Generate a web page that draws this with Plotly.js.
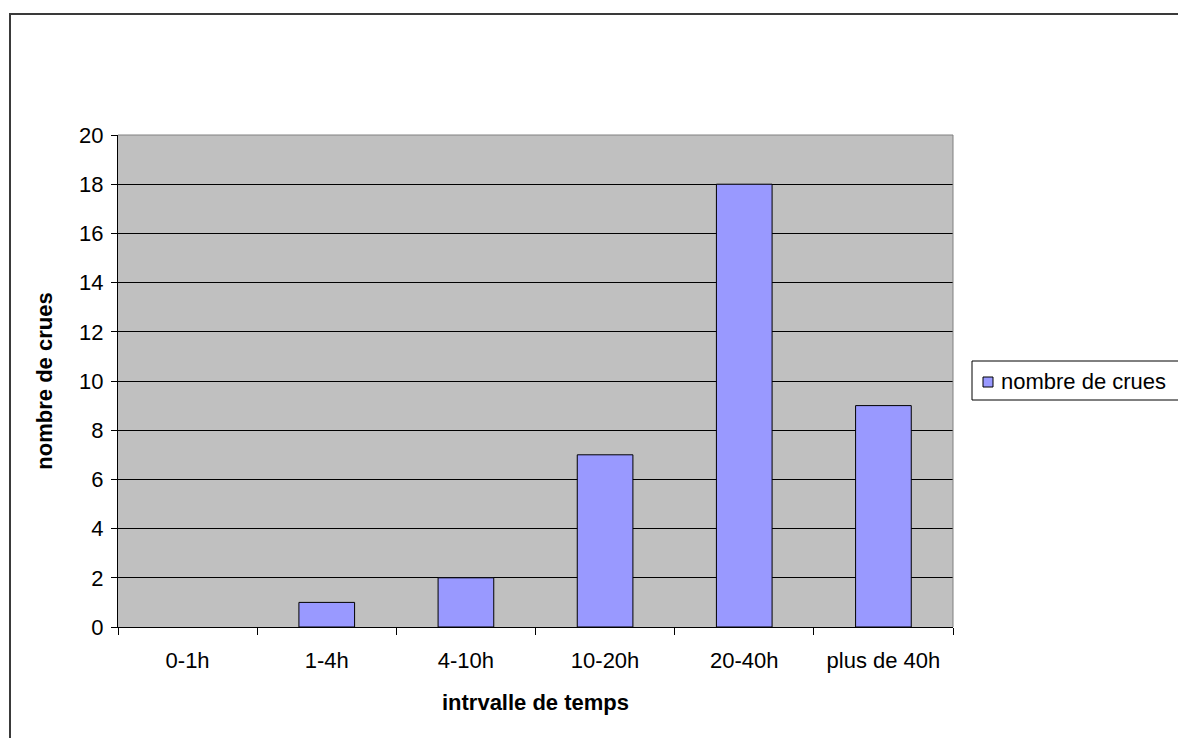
<!DOCTYPE html>
<html>
<head>
<meta charset="utf-8">
<script src="https://cdn.plot.ly/plotly-3.0.1.min.js"></script>
<style>html,body{margin:0;padding:0;background:#fff;}#chart{width:1178px;height:738px;}</style>
</head>
<body>
<div id="chart"></div>
<script>
var categories = ["0-1h", "1-4h", "4-10h", "10-20h", "20-40h", "plus de 40h"];
var crues = [0, 1, 2, 7, 18, 9];
var seriesName = "nombre de crues";
var yTickValues = [0, 2, 4, 6, 8, 10, 12, 14, 16, 18, 20];
var xTitle = "intrvalle de temps";
var yTitle = "nombre de crues";

var FONT = "Liberation Sans, Arial, sans-serif";
var FS = 22;
var W = 1178, H = 738;
var L = 118, R = 953, T = 135, B = 627;
function px(x){ return (x - L) / (R - L); }
function py(y){ return (B - y) / (B - T); }

var trace = {
  type: "bar",
  x: categories,
  y: crues,
  name: seriesName,
  marker: {color: "#9999FF", line: {color: "#000000", width: crues.map(function(v){ return v > 0 ? 1 : 0; })}},
  showlegend: false,
  hoverinfo: "x+y"
};

var layout = {
  width: W, height: H,
  margin: {l: L, r: W - R, t: T, b: H - B, pad: 0},
  paper_bgcolor: "#FFFFFF",
  plot_bgcolor: "#C0C0C0",
  bargap: 0.6,
  font: {family: FONT, size: FS, color: "#000000"},
  xaxis: {
    type: "category",
    showline: true, linecolor: "#000000", linewidth: 1,
    ticks: "outside", tickson: "boundaries", ticklen: 7, tickcolor: "#000000",
    ticklabelstandoff: 14,
    showgrid: false, zeroline: false,
    tickfont: {family: FONT, size: FS, color: "#000000"},
    title: {text: xTitle, font: {family: FONT, size: FS, color: "#000000", weight: "bold"}, standoff: 22},
    automargin: false
  },
  yaxis: {
    range: [0, 20],
    tickvals: yTickValues,
    showline: true, linecolor: "#000000", linewidth: 1,
    ticks: "outside", ticklen: 6, tickcolor: "#000000",
    ticklabelstandoff: 3,
    showgrid: true, gridcolor: "#000000", gridwidth: 1,
    zeroline: false,
    tickfont: {family: FONT, size: FS, color: "#000000"},
    title: {text: yTitle, font: {family: FONT, size: FS, color: "#000000", weight: "bold"}, standoff: 20},
    automargin: false
  },
  shapes: [
    {type: "line", xref: "paper", yref: "paper", x0: 0, x1: 1, y0: 1, y1: 1, line: {color: "#808080", width: 1}, layer: "above"},
    {type: "line", xref: "paper", yref: "paper", x0: 1, x1: 1, y0: 0, y1: 1, line: {color: "#808080", width: 1}, layer: "above"},
    {type: "rect", xref: "paper", yref: "paper", x0: px(10), x1: px(1240), y0: py(800), y1: py(14), line: {color: "#3a3a3a", width: 2}, fillcolor: "rgba(0,0,0,0)", layer: "above"},
    {type: "rect", xref: "paper", yref: "paper", x0: px(972), x1: px(1240), y0: py(400), y1: py(361), line: {color: "#000000", width: 1}, fillcolor: "#FFFFFF", layer: "above"},
    {type: "rect", xref: "paper", yref: "paper", x0: px(983), x1: px(993), y0: py(387), y1: py(377), line: {color: "#000000", width: 1}, fillcolor: "#9999FF", layer: "above"}
  ],
  annotations: [
    {xref: "paper", yref: "paper", x: px(999), y: py(381), xanchor: "left", yanchor: "middle", showarrow: false,
     text: seriesName, font: {family: FONT, size: FS, color: "#000000"}}
  ]
};

Plotly.newPlot("chart", [trace], layout, {displayModeBar: false, staticPlot: true});
</script>
</body>
</html>
